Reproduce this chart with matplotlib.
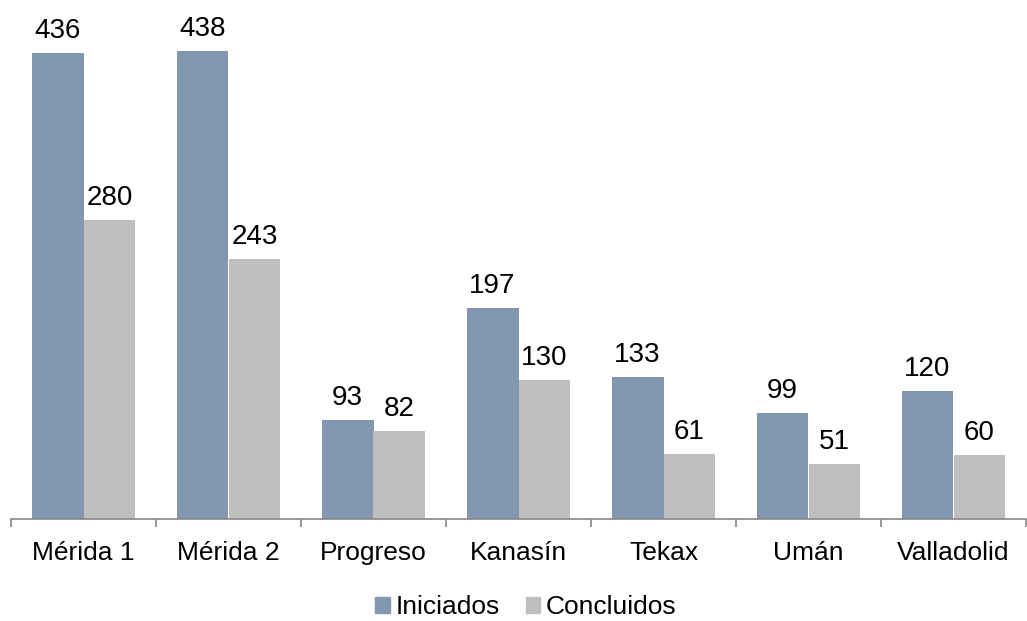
import matplotlib
matplotlib.use("Agg")
import matplotlib.pyplot as plt
import numpy as np
from matplotlib.patches import Patch

categories = ["Mérida 1", "Mérida 2", "Progreso", "Kanasín", "Tekax", "Umán", "Valladolid"]
iniciados = [436, 438, 93, 197, 133, 99, 120]
concluidos = [280, 243, 82, 130, 61, 51, 60]
series_names = ["Iniciados", "Concluidos"]
colors = ["#8497B0", "#BFBFBF"]

plt.rcParams['font.family'] = ['Liberation Sans', 'DejaVu Sans']

fig = plt.figure(figsize=(10.27, 6.21), dpi=100)
ax = fig.add_axes([11/1027, (621-519)/621, 1015/1027, 519/621])

x = np.arange(len(categories))
w = 0.358
b1 = ax.bar(x - w/2, iniciados, w, color=colors[0])
b2 = ax.bar(x + w/2, concluidos, w, color=colors[1])
for bars in (b1, b2):
    for r in bars:
        ax.annotate(f"{int(r.get_height())}", (r.get_x() + r.get_width()/2, r.get_height()),
                    xytext=(0, 6.5), textcoords="offset points", ha="center", va="bottom",
                    fontsize=20, color="black")

ax.set_xlim(-0.5, len(categories) - 0.5)
ax.set_ylim(0, 485.5)
for s in ["top", "right", "left"]:
    ax.spines[s].set_visible(False)
ax.spines["bottom"].set_color("#868686")
ax.spines["bottom"].set_linewidth(1.2)
ax.set_yticks([])
ax.set_xticks(np.arange(len(categories) + 1) - 0.5, minor=False)
ax.set_xticklabels([])
ax.set_xticks(x, minor=True)
ax.set_xticklabels(categories, minor=True, fontsize=19)
ax.tick_params(axis="x", which="major", length=6, color="#868686", width=1.2)
ax.tick_params(axis="x", which="minor", length=0, pad=16)

handles = [Patch(color=c) for c in colors]
fig.legend(handles, series_names, loc="lower center", bbox_to_anchor=(0.512, -0.035), ncol=2,
           frameon=False, fontsize=19, handlelength=0.55, handleheight=0.55,
           handletextpad=0.2, columnspacing=1.0)

fig.savefig("out.png", dpi=100)
